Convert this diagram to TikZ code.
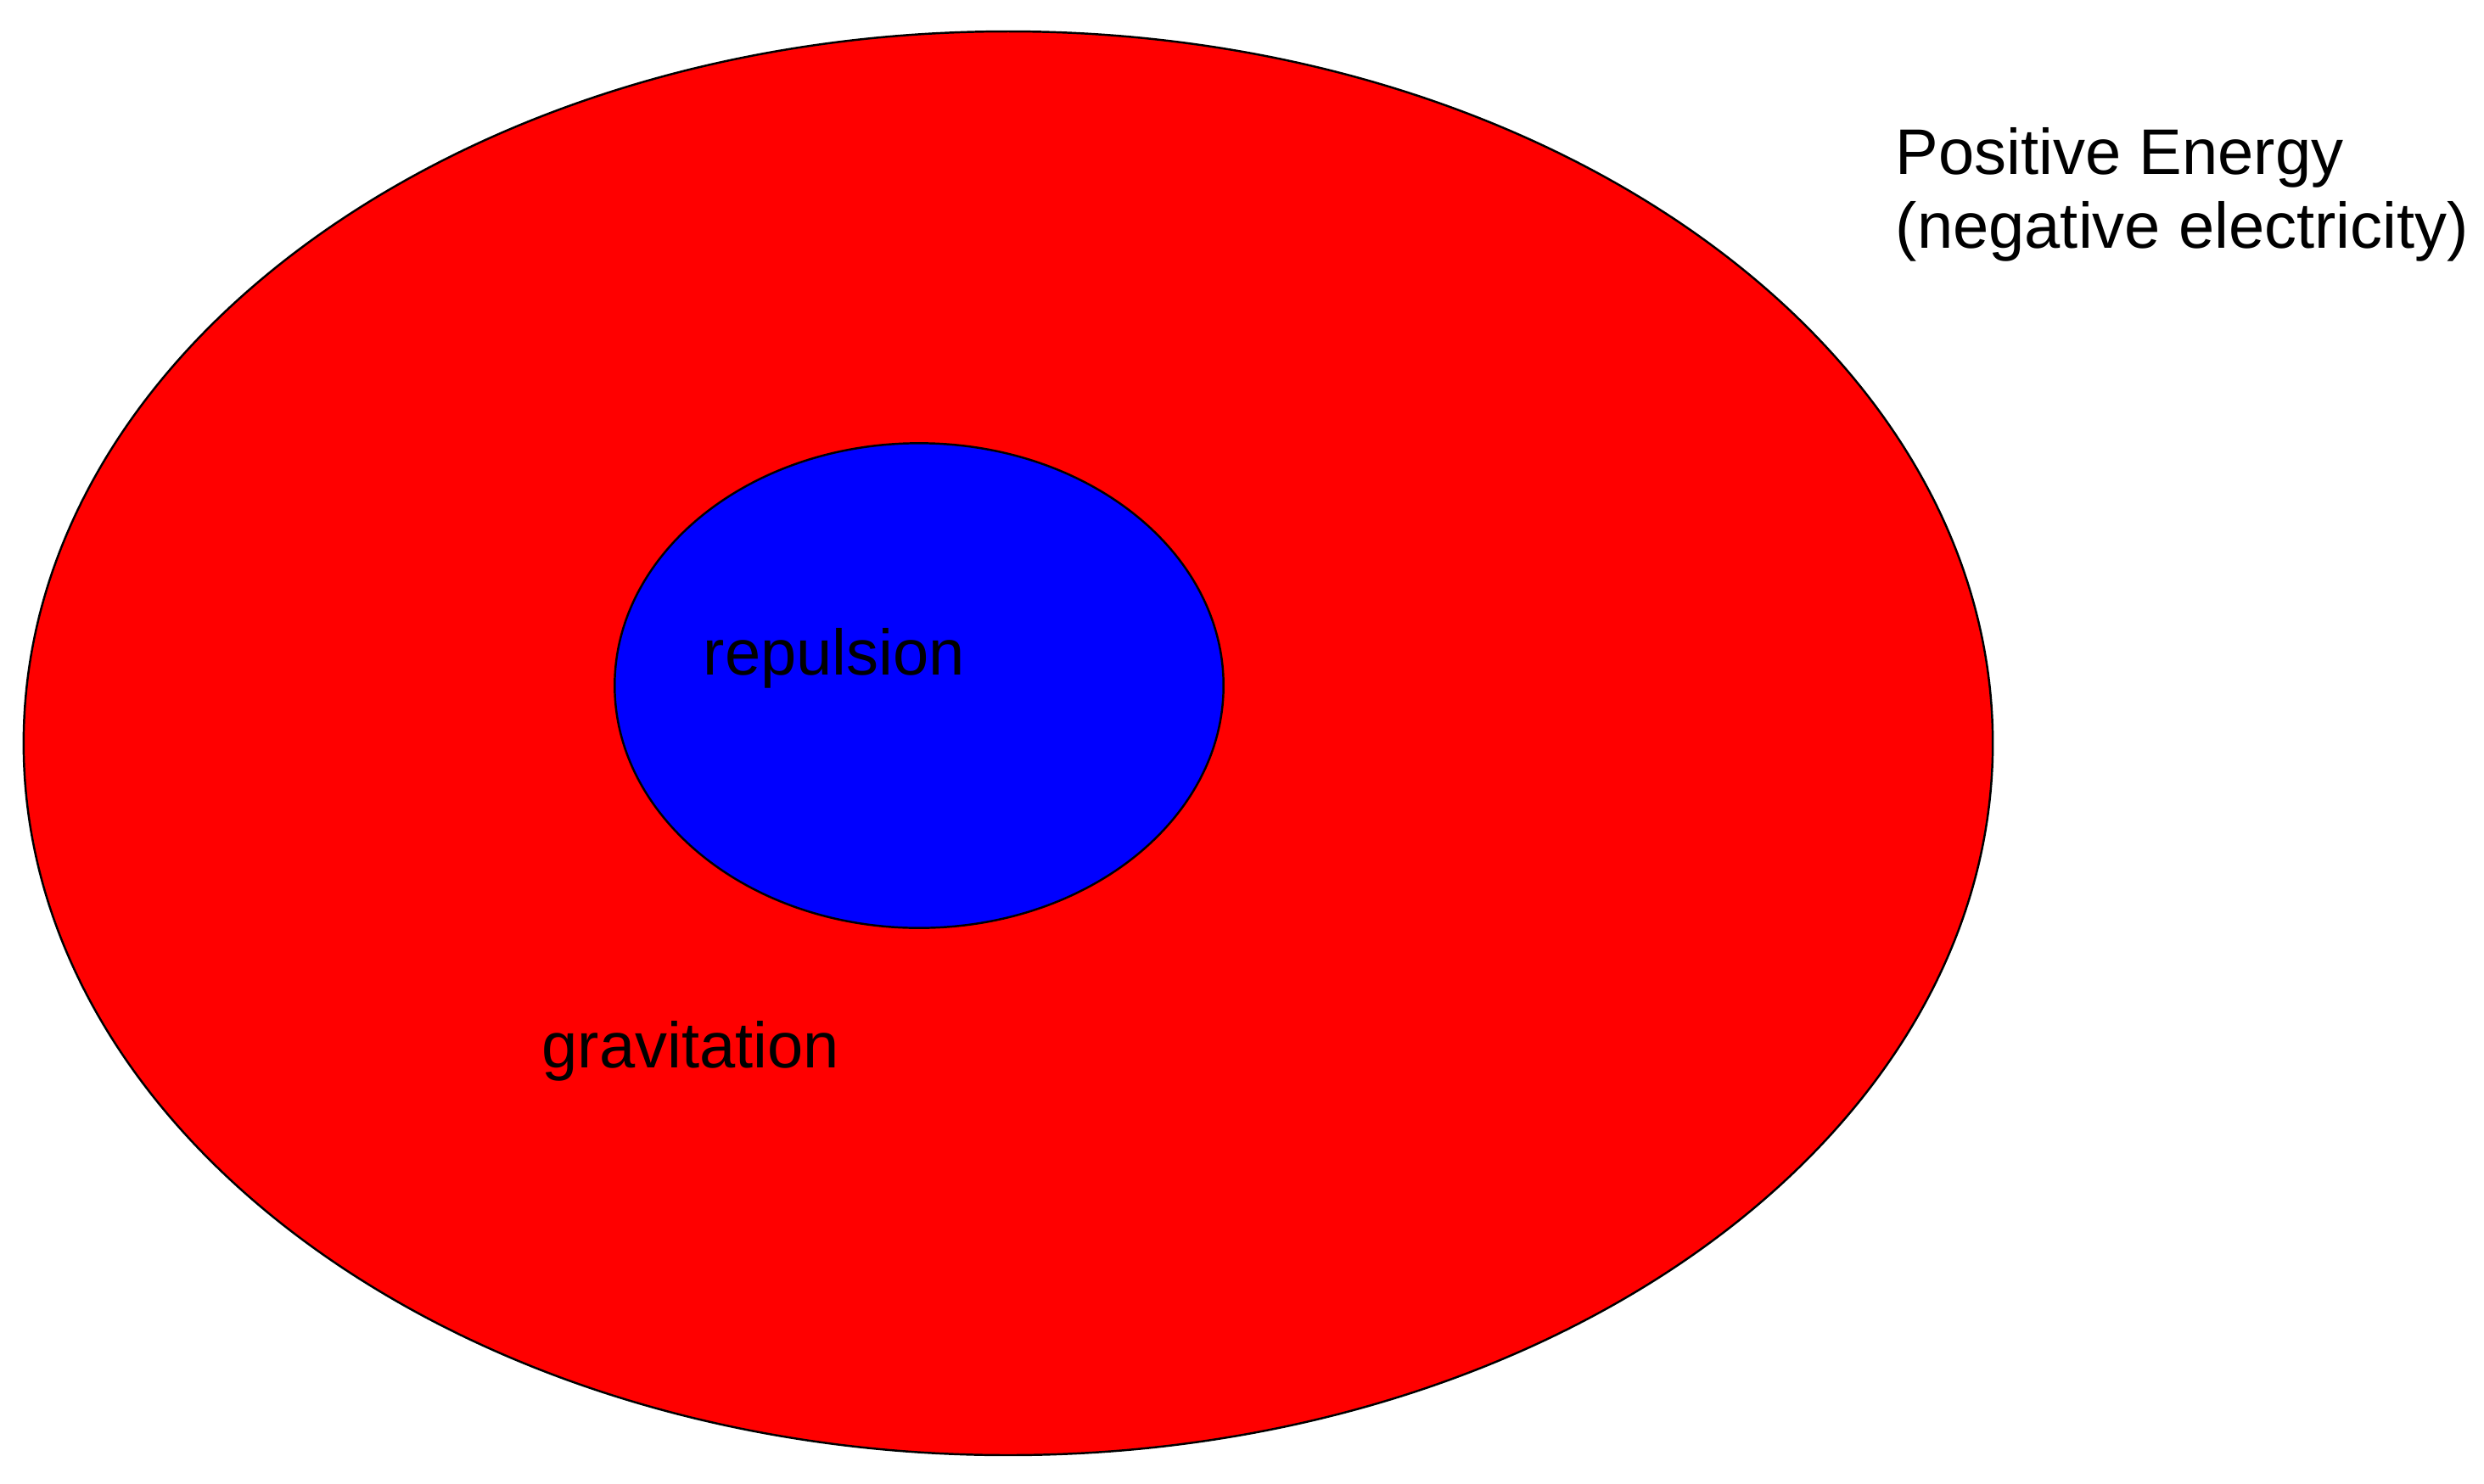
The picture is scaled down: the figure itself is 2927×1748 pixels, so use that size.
\documentclass[tikz,border=0pt]{standalone}
\usepackage{fontspec}
\setmainfont{Liberation Sans}
\usetikzlibrary{shapes.geometric}
\definecolor{outerred}{RGB}{255,0,0}
\definecolor{innerblue}{RGB}{0,0,255}
\tikzset{
  region/.style={ellipse, draw=black, line width=0.7pt, inner sep=0pt},
  lbl/.style={anchor=base west, inner sep=0pt, font=\fontsize{21.6pt}{26pt}\selectfont, text=black}
}
\begin{document}
\begin{tikzpicture}[x=0.01cm, y=-0.01cm]
\useasboundingbox (0,0) rectangle (2927,1748);
\node[region, fill=outerred, minimum width=23.19cm, minimum height=16.77cm] (outer) at (1188,876) {};
\node[region, fill=innerblue, minimum width=7.17cm, minimum height=5.71cm] (inner) at (1083,808) {};
\node[lbl] (rep) at (828,795) {repulsion};
\node[lbl] (grav) at (638,1258) {gravitation};
\node[lbl] (pe) at (2233,205) {Positive Energy};
\node[lbl] (ne) at (2233,292) {(negative electricity)};
\end{tikzpicture}
\end{document}
